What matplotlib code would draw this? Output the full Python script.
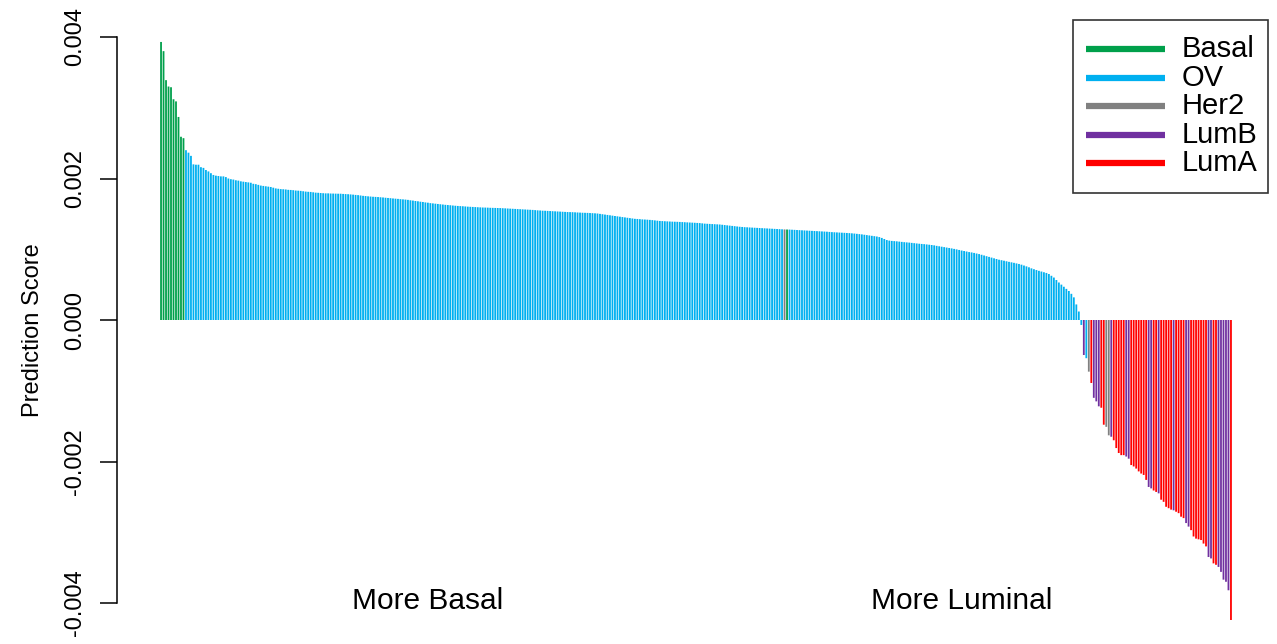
import matplotlib
matplotlib.use("Agg")
import matplotlib.pyplot as plt
from matplotlib.lines import Line2D
from matplotlib.patches import Rectangle
import numpy as np

plt.rcParams['font.family'] = ['Liberation Sans', 'DejaVu Sans']
plt.rcParams['axes.unicode_minus'] = False

subtypes = ['Basal', 'OV', 'Her2', 'LumB', 'LumA']
subtype_colors = {'Basal': '#00A04B', 'OV': '#00B0F0', 'Her2': '#808080',
                  'LumB': '#7030A0', 'LumA': '#FF0000'}

# prediction scores (x 1e-6), sorted from most basal to most luminal
scores_e6 = [
    3930, 3800, 3390, 3300, 3290, 3120, 3090, 2870, 2590, 2570,
    2400, 2365, 2320, 2200, 2195, 2195, 2160, 2150, 2120, 2100,
    2075, 2050, 2040, 2035, 2030, 2030, 2020, 2000, 1990, 1985,
    1975, 1970, 1960, 1955, 1950, 1945, 1940, 1925, 1920, 1910,
    1900, 1895, 1890, 1885, 1880, 1870, 1860, 1855, 1850, 1848,
    1845, 1840, 1838, 1835, 1830, 1828, 1825, 1820, 1815, 1812,
    1810, 1805, 1800, 1798, 1795, 1792, 1790, 1790, 1788, 1787,
    1786, 1785, 1785, 1782, 1780, 1778, 1775, 1772, 1768, 1765,
    1760, 1755, 1752, 1748, 1745, 1742, 1740, 1738, 1735, 1732,
    1728, 1725, 1722, 1718, 1715, 1712, 1708, 1705, 1702, 1698,
    1692, 1688, 1682, 1678, 1672, 1668, 1662, 1658, 1652, 1648,
    1644, 1640, 1636, 1632, 1628, 1625, 1622, 1618, 1615, 1612,
    1610, 1608, 1605, 1602, 1600, 1598, 1596, 1594, 1592, 1590,
    1589, 1588, 1586, 1585, 1584, 1583, 1582, 1580, 1578, 1576,
    1574, 1572, 1570, 1568, 1566, 1564, 1562, 1560, 1558, 1556,
    1553, 1550, 1548, 1545, 1544, 1542, 1540, 1538, 1536, 1534,
    1532, 1530, 1528, 1526, 1525, 1524, 1522, 1520, 1518, 1516,
    1515, 1514, 1512, 1510, 1508, 1505, 1500, 1495, 1490, 1485,
    1480, 1475, 1470, 1465, 1460, 1455, 1450, 1445, 1440, 1435,
    1430, 1428, 1425, 1422, 1420, 1418, 1415, 1412, 1408, 1404,
    1400, 1398, 1396, 1394, 1392, 1390, 1389, 1388, 1386, 1384,
    1382, 1380, 1378, 1376, 1374, 1372, 1370, 1366, 1362, 1360,
    1358, 1356, 1354, 1352, 1350, 1346, 1342, 1338, 1334, 1330,
    1326, 1322, 1318, 1315, 1312, 1310, 1308, 1306, 1304, 1302,
    1300, 1298, 1296, 1294, 1292, 1290, 1288, 1286, 1284, 1282,
    1280, 1279, 1278, 1276, 1274, 1272, 1270, 1268, 1266, 1264,
    1262, 1260, 1258, 1256, 1254, 1252, 1250, 1248, 1245, 1242,
    1240, 1238, 1236, 1234, 1232, 1230, 1228, 1225, 1222, 1218,
    1214, 1210, 1205, 1200, 1195, 1190, 1185, 1180, 1172, 1160,
    1145, 1130, 1122, 1118, 1115, 1112, 1108, 1104, 1100, 1097,
    1094, 1090, 1086, 1082, 1078, 1075, 1072, 1068, 1064, 1060,
    1055, 1048, 1042, 1036, 1030, 1024, 1018, 1012, 1005, 998,
    990, 982, 975, 968, 960, 955, 948, 940, 932, 922,
    912, 902, 892, 882, 872, 862, 852, 845, 838, 830,
    822, 815, 808, 800, 792, 782, 770, 758, 745, 730,
    718, 706, 695, 685, 675, 665, 650, 625, 600, 565,
    530, 500, 470, 440, 410, 370, 320, 220, 120,
    -70, -495, -540, -730, -890, -1100, -1150, -1220, -1240, -1480,
    -1510, -1630, -1650, -1700, -1810, -1880, -1910, -1910, -1930, -1960,
    -2050, -2070, -2100, -2140, -2170, -2190, -2260, -2360, -2380, -2410,
    -2430, -2450, -2540, -2570, -2640, -2660, -2680, -2690, -2710, -2730,
    -2780, -2800, -2870, -2920, -2970, -3060, -3090, -3100, -3110, -3160,
    -3200, -3350, -3370, -3440, -3460, -3490, -3560, -3670, -3700, -3820,
    -4240,
]

# subtype of each sample, as runs along the sorted order
subtype_runs = [
    ('Basal', 10), ('OV', 240), ('Her2', 1), ('Basal', 1), ('OV', 118),
    ('LumB', 1), ('OV', 1), ('Her2', 1), ('LumA', 1), ('LumB', 3),
    ('LumA', 2), ('Her2', 2), ('LumB', 1), ('LumA', 5), ('LumB', 2),
    ('LumA', 7), ('LumB', 2), ('LumA', 2), ('LumB', 1), ('LumA', 5),
    ('LumB', 1), ('LumA', 4), ('LumB', 2), ('LumA', 7), ('LumB', 2),
    ('LumA', 2), ('LumB', 5), ('LumA', 1),
]

scores = np.array(scores_e6) * 1e-6
labels = [name for name, n in subtype_runs for _ in range(n)]
assert len(labels) == len(scores)
colors = [subtype_colors[s] for s in labels]

W, H = 1277, 644
fig = plt.figure(figsize=(W / 100, H / 100), dpi=100)

# axes placed so that 0 sits at y=320px and 0.002 spans 141.5px
ymax = 0.0044
zero_px, per_unit = 320, 141.5 / 0.002
top_px = zero_px - ymax * per_unit
bot_px = zero_px + ymax * per_unit
ax = fig.add_axes([117 / W, 1 - bot_px / H, (1250 - 117) / W, (bot_px - top_px) / H])

x = np.arange(len(scores))
ax.bar(x, scores, width=0.72, color=colors, linewidth=0, snap=False)

unit = 1072 / (len(scores) - 1 + 0.83)
ax.set_xlim(-0.415 - 43 / unit, -0.415 + (1250 - 160) / unit)
ax.set_ylim(-ymax, ymax)

for side in ['top', 'right', 'bottom']:
    ax.spines[side].set_visible(False)
ax.spines['left'].set_bounds(-0.004, 0.004)
ax.spines['left'].set_linewidth(1.1)
ax.set_xticks([])
yt = [-0.004, -0.002, 0.0, 0.002, 0.004]
ax.set_yticks(yt)
ax.set_yticklabels(['%.3f' % v for v in yt])
ax.tick_params(axis='y', length=12, width=1.1, pad=10, labelsize=17, labelrotation=90)
for t in ax.get_yticklabels():
    t.set_va('center')

ax.set_ylabel('Prediction Score', fontsize=17, va='center')
ax.yaxis.set_label_coords(-(117 - 33) / (1250 - 117), 0.483)

ax.text(107, -0.004085, 'More Basal', fontsize=21.5, ha='center', va='baseline')
ax.text(321, -0.004085, 'More Luminal', fontsize=21.5, ha='center', va='baseline')

# legend box drawn in figure pixels
def fpx(px, py):
    return px / W, 1 - py / H

fig.patches.append(Rectangle(fpx(1073, 193), 195 / W, 173 / H, transform=fig.transFigure,
                             fill=False, edgecolor='#333333', linewidth=1.2))
for k, name in enumerate(subtypes):
    yy = 49 + k * 28.6
    x0, y0 = fpx(1086, yy)
    x1, _ = fpx(1165, yy)
    fig.lines.append(Line2D([x0, x1], [y0, y0], transform=fig.transFigure,
                            color=subtype_colors[name], linewidth=4.5, solid_capstyle='butt'))
    fig.text(1182 / W, y0, name, fontsize=21, va='center', ha='left')

fig.savefig('out.png', dpi=100, facecolor='white')
